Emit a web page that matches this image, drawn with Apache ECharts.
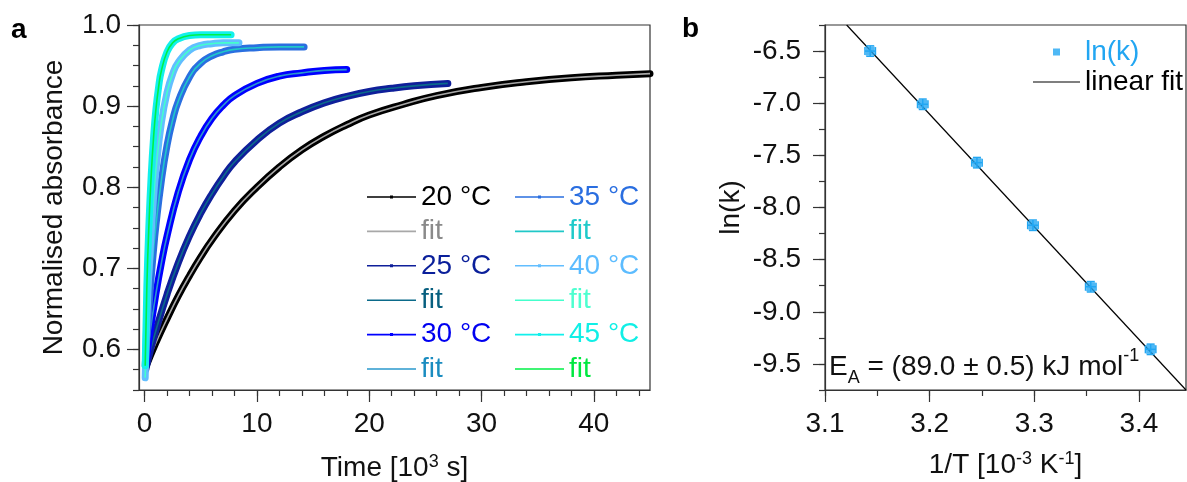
<!DOCTYPE html>
<html><head><meta charset="utf-8">
<script src="https://cdn.jsdelivr.net/npm/echarts@6/dist/echarts.min.js"></script>
<style>html,body{margin:0;padding:0;background:#fff}#c{width:1187px;height:482px}</style>
</head><body><div id="c"></div>
<script>
const FONT = 'Liberation Sans, Arial, Helvetica, sans-serif';
const FS = 28;

// ---------- panel a: kinetics (time in 10^3 s, normalised absorbance) ----------
const t20 = [0.1, 1, 2, 3, 4, 5, 6, 8, 10, 12, 14, 16, 18, 20, 23, 26, 30, 34, 38, 42, 45];
const a20 = [0.578, 0.608, 0.638, 0.666, 0.691, 0.714, 0.735, 0.771, 0.800, 0.825, 0.846, 0.863, 0.877, 0.889, 0.902, 0.913, 0.923, 0.930, 0.935, 0.938, 0.940];
const t25 = [0.1, 0.5, 1, 2, 3, 4, 5, 6, 7, 8, 10, 12, 14, 16, 18, 20, 22, 24, 27];
const a25 = [0.575, 0.598, 0.623, 0.668, 0.707, 0.740, 0.768, 0.792, 0.813, 0.831, 0.858, 0.879, 0.893, 0.904, 0.912, 0.918, 0.922, 0.925, 0.928];
const t30 = [0.1, 0.5, 1, 1.5, 2, 3, 4, 5, 6, 7, 8, 10, 12, 14, 16, 18];
const a30 = [0.580, 0.623, 0.668, 0.707, 0.740, 0.794, 0.834, 0.863, 0.885, 0.901, 0.913, 0.928, 0.937, 0.941, 0.944, 0.945];
const t35 = [0.05, 0.25, 0.5, 0.75, 1, 1.5, 2, 2.5, 3, 4, 5, 6, 7, 8, 10, 12, 14.2];
const a35 = [0.580, 0.626, 0.674, 0.716, 0.752, 0.809, 0.852, 0.883, 0.906, 0.936, 0.953, 0.962, 0.967, 0.970, 0.972, 0.973, 0.973];
const t40 = [0.05, 0.25, 0.5, 0.75, 1, 1.5, 2, 2.5, 3, 4, 5, 6, 7, 8.4];
const a40 = [0.565, 0.656, 0.724, 0.778, 0.820, 0.880, 0.917, 0.940, 0.954, 0.969, 0.975, 0.977, 0.978, 0.978];
const t45 = [0.05, 0.2, 0.4, 0.6, 0.8, 1, 1.25, 1.5, 2, 2.5, 3, 4, 5, 6, 7.7];
const a45 = [0.580, 0.678, 0.759, 0.818, 0.862, 0.895, 0.924, 0.944, 0.967, 0.978, 0.983, 0.987, 0.988, 0.988, 0.988];

const tempLabels = ['20 °C', '25 °C', '30 °C', '35 °C', '40 °C', '45 °C'];
// axis ranges / tick steps (tick labels: 0..40 step 10; 0.6..1.0 step 0.1)
const timeRange = [-0.5, 45], timeMajor = [0, 40, 10], timeMinor = [0, 44, 2];
const absRange = [0.55, 1.0], absMajor = [0.6, 1.0, 0.1], absMinorStep = 0.025;

// ---------- panel b: Arrhenius plot ----------
const invT = [3.1432, 3.1934, 3.2452, 3.2987, 3.3540, 3.4112];
const lnk = [-6.50, -7.01, -7.57, -8.17, -8.76, -9.36];
const invTErr = [0.005, 0.005, 0.005, 0.005, 0.005, 0.005];
const lnkErr = [0.05, 0.05, 0.05, 0.05, 0.05, 0.05];
const fitInvT = [3.1207, 3.445];
const fitLnk = [-6.25, -9.75];
// tick labels: 3.1..3.4 step 0.1; -9.5..-6.5 step 0.5
const invTRange = [3.1, 3.445], invTMajor = [3.1, 3.4, 0.1], invTMinorStep = 0.05;
const lnkRange = [-9.75, -6.25], lnkMajor = [-9.5, -6.5, 0.5], lnkMinorStep = 0.25;

// ---------- styles ----------
const dataColors = ['#000000', '#0f1f9a', '#0000ff', '#2a6fe0', '#62beff', '#12f0ec'];
const fitColors = ['#a8a8a8', '#0b6a8a', '#2a98cc', '#20c8c8', '#44ffcc', '#00f046'];
const tempTextColors = ['#000000', '#0a1f9a', '#0000f0', '#2a6ee0', '#5cbcff', '#10efe6'];
const fitTextColors = ['#8a8a8a', '#075f7f', '#1a8cc0', '#1fcaca', '#4dffd0', '#00e840'];
const LNK = '#22a6f2';
const AXIS = '#333333';
const TXT = '#111111';

// plot boxes (pixels)
const boxA = { left: 139, top: 25, width: 511, height: 365 };
const boxB = { left: 825, top: 25, width: 361, height: 365 };

const times = [t20, t25, t30, t35, t40, t45];
const absVals = [a20, a25, a30, a35, a40, a45];
const pairs = (xs, ys) => xs.map((x, i) => [x, ys[i]]);

const ICON_DATA = 'path://M0,0L0,0M49,6L49,6M0,2.2L49,2.2L49,3.8L0,3.8ZM23,1.5L26,1.5L26,4.5L23,4.5Z';
const ICON_FIT = 'path://M0,0L0,0M49,6L49,6M0,2.2L49,2.2L49,3.8L0,3.8Z';

const series = [];
tempLabels.forEach((lab, i) => {
  series.push({
    name: lab, type: 'line', xAxisIndex: 0, yAxisIndex: 0,
    data: pairs(times[i], absVals[i]), color: dataColors[i],
    symbol: 'circle', showSymbol: false, smooth: 0.5,
    lineStyle: { width: 7, color: dataColors[i], cap: 'round', join: 'round' },
    itemStyle: { color: dataColors[i] }, z: 2 + i * 2
  });
  series.push({
    name: 'fit ' + lab, type: 'line', xAxisIndex: 0, yAxisIndex: 0,
    data: pairs(times[i], absVals[i]), color: fitColors[i],
    symbol: 'none', smooth: 0.5,
    lineStyle: { width: 1.6, color: fitColors[i] },
    itemStyle: { color: fitColors[i] }, z: 3 + i * 2
  });
});

series.push({
  name: 'linear fit', type: 'line', xAxisIndex: 1, yAxisIndex: 1,
  data: pairs(fitInvT, fitLnk), symbol: 'none', color: '#000',
  lineStyle: { width: 1.2, color: '#000' }, itemStyle: { color: '#000' }, z: 3
});
series.push({
  name: 'ln(k) error', type: 'custom', xAxisIndex: 1, yAxisIndex: 1,
  data: invT.map((x, i) => [x, lnk[i], invTErr[i], lnkErr[i]]),
  encode: { x: 0, y: 1 }, z: 4,
  renderItem: function (params, api) {
    const x = api.value(0), y = api.value(1), ex = api.value(2), ey = api.value(3);
    const top = api.coord([x, y + ey]), bot = api.coord([x, y - ey]);
    const l = api.coord([x - ex, y]), r = api.coord([x + ex, y]);
    const c = 4;
    const st = { stroke: LNK, lineWidth: 1.5 };
    const ln = (x1, y1, x2, y2) => ({ type: 'line', shape: { x1, y1, x2, y2 }, style: st });
    return { type: 'group', children: [
      ln(top[0], top[1], bot[0], bot[1]),
      ln(top[0] - c, top[1], top[0] + c, top[1]),
      ln(bot[0] - c, bot[1], bot[0] + c, bot[1]),
      ln(l[0], l[1], r[0], r[1]),
      ln(l[0], l[1] - c, l[0], l[1] + c),
      ln(r[0], r[1] - c, r[0], r[1] + c)
    ] };
  }
});
series.push({
  name: 'ln(k)', type: 'scatter', xAxisIndex: 1, yAxisIndex: 1,
  data: pairs(invT, lnk), symbol: 'rect', symbolSize: 9, color: LNK,
  itemStyle: { color: LNK }, z: 5
});

// helper grids that carry the major / minor tick rulers, aligned to the data scales
function subBox(box, range, sub, dim) {
  if (dim === 'x') {
    const ppu = box.width / (range[1] - range[0]);
    return { left: box.left + (sub[0] - range[0]) * ppu, width: (sub[1] - sub[0]) * ppu, top: box.top, height: box.height, show: false, outerBoundsMode: 'none', containLabel: false };
  }
  const ppu = box.height / (range[1] - range[0]);
  return { left: box.left, width: box.width, top: box.top + (range[1] - sub[1]) * ppu, height: (sub[1] - sub[0]) * ppu, show: false, outerBoundsMode: 'none', containLabel: false };
}

const grids = [
  Object.assign({ show: true, borderColor: AXIS, borderWidth: 1.2, outerBoundsMode: 'none', containLabel: false }, boxA),
  Object.assign({ show: true, borderColor: AXIS, borderWidth: 1.2, outerBoundsMode: 'none', containLabel: false }, boxB),
  subBox(boxA, timeRange, timeMajor, 'x'),
  subBox(boxA, timeRange, timeMinor, 'x'),
  subBox(boxA, absRange, absMajor, 'y'),
  subBox(boxB, invTRange, invTMajor, 'x'),
  subBox(boxB, lnkRange, lnkMajor, 'y')
];

const tickLine = { color: AXIS, width: 1.2 };
const labelFont = { fontSize: FS, fontFamily: FONT, color: TXT };
const isMultiple = (v, step) => Math.abs(v / step - Math.round(v / step)) < 1e-6;
const hidden = g => ({ type: 'value', gridIndex: g, show: false, min: 0, max: 1 });
function ruler(g, rng, len, labelMargin, fmt, pos) {
  return {
    type: 'value', gridIndex: g, min: rng[0], max: rng[1], interval: rng[2], position: pos,
    axisLine: { show: false, onZero: false },
    axisTick: { show: true, inside: false, length: len, lineStyle: tickLine },
    axisLabel: labelMargin == null ? { show: false } : Object.assign({ show: true, margin: labelMargin, formatter: fmt }, labelFont),
    splitLine: { show: false }
  };
}

const nameRich = {
  n: { fontSize: FS, fontFamily: FONT, color: TXT, lineHeight: 30 },
  sup: { fontSize: 18, fontFamily: FONT, color: TXT, lineHeight: 16, verticalAlign: 'top' }
};

const xAxes = [
  { // 0: panel a data axis
    type: 'value', gridIndex: 0, min: timeRange[0], max: timeRange[1], position: 'bottom',
    axisLine: { show: true, onZero: false, lineStyle: tickLine }, axisTick: { show: false }, axisLabel: { show: false },
    splitLine: { show: false },
    name: '{n|Time [10}{sup|3}{n| s]}', nameLocation: 'middle', nameGap: 63,
    nameTextStyle: { rich: nameRich, fontSize: FS, fontFamily: FONT, color: TXT }
  },
  { // 1: panel b data axis (minor ticks + labels)
    type: 'value', gridIndex: 1, min: invTRange[0], max: invTRange[1], interval: invTMinorStep, position: 'bottom',
    axisLine: { show: true, onZero: false, lineStyle: tickLine },
    axisTick: { show: true, inside: false, length: 6, lineStyle: tickLine },
    axisLabel: Object.assign({ margin: 20, showMaxLabel: false,
      formatter: v => isMultiple(v, invTMajor[2]) && v <= invTMajor[1] + 1e-9 ? v.toFixed(1) : '' }, labelFont),
    splitLine: { show: false },
    name: '{n|1/T [10}{sup|-3}{n| K}{sup|-1}{n|]}', nameLocation: 'middle', nameGap: 60,
    nameTextStyle: { rich: nameRich, fontSize: FS, fontFamily: FONT, color: TXT }
  },
  ruler(2, timeMajor, 12, 20, v => String(Math.round(v)), 'bottom'),
  ruler(3, timeMinor, 6, null, null, 'bottom'),
  hidden(4),
  ruler(5, invTMajor, 12, null, null, 'bottom'),
  hidden(6)
];

const yAxes = [
  { // 0: panel a data axis (minor ticks + labels)
    type: 'value', gridIndex: 0, min: absRange[0], max: absRange[1], interval: absMinorStep, position: 'left',
    axisLine: { show: true, onZero: false, lineStyle: tickLine },
    axisTick: { show: true, inside: false, length: 6, lineStyle: tickLine },
    axisLabel: Object.assign({ margin: 18, formatter: v => isMultiple(v, absMajor[2]) ? v.toFixed(1) : '' }, labelFont),
    splitLine: { show: false },
    name: 'Normalised absorbance', nameLocation: 'middle', nameGap: 70,
    nameTextStyle: { fontSize: FS, fontFamily: FONT, color: TXT, lineHeight: 30 }
  },
  { // 1: panel b data axis (minor ticks + labels)
    type: 'value', gridIndex: 1, min: lnkRange[0], max: lnkRange[1], interval: lnkMinorStep, position: 'left',
    axisLine: { show: true, onZero: false, lineStyle: tickLine },
    axisTick: { show: true, inside: false, length: 6, lineStyle: tickLine },
    axisLabel: Object.assign({ margin: 24, formatter: v => isMultiple(v, lnkMajor[2]) ? v.toFixed(1) : '' }, labelFont),
    splitLine: { show: false },
    name: 'ln(k)', nameLocation: 'middle', nameGap: 79,
    nameTextStyle: { fontSize: FS, fontFamily: FONT, color: TXT, lineHeight: 30 }
  },
  hidden(2),
  hidden(3),
  ruler(4, absMajor, 12, null, null, 'left'),
  hidden(5),
  ruler(6, lnkMajor, 12, null, null, 'left')
];

function legendA(left, idx) {
  return {
    left, top: 177, orient: 'vertical', itemWidth: 49, itemHeight: 6, itemGap: 4.4,
    selectedMode: false, symbolKeepAspect: true, itemStyle: { borderWidth: 0 },
    textStyle: { fontSize: FS, fontFamily: FONT, lineHeight: 30 },
    formatter: n => n.indexOf('fit') === 0 ? 'fit' : n,
    data: idx.flatMap(i => [
      { name: tempLabels[i], icon: ICON_DATA, itemStyle: { color: dataColors[i], borderWidth: 0 }, textStyle: { color: tempTextColors[i] } },
      { name: 'fit ' + tempLabels[i], icon: ICON_FIT, itemStyle: { color: fitColors[i], borderWidth: 0 }, textStyle: { color: fitTextColors[i] } }
    ])
  };
}

const option = {
  animation: false,
  backgroundColor: '#ffffff',
  textStyle: { fontFamily: FONT },
  grid: grids,
  xAxis: xAxes,
  yAxis: yAxes,
  legend: [
    legendA(362, [0, 1, 2]),
    legendA(510, [3, 4, 5]),
    {
      left: 1028, top: 32, orient: 'vertical', itemWidth: 47, itemHeight: 7, itemGap: 0,
      selectedMode: false, symbolKeepAspect: true, itemStyle: { borderWidth: 0 },
      textStyle: { fontSize: FS, fontFamily: FONT, lineHeight: 30 },
      data: [
        { name: 'ln(k)', icon: 'path://M0,0L0,0M47,7L47,7M20,0L27,0L27,7L20,7Z', itemStyle: { color: LNK, borderWidth: 0 }, textStyle: { color: LNK } },
        { name: 'linear fit', icon: 'path://M0,0L0,0M47,7L47,7M0,2.9L47,2.9L47,4.1L0,4.1Z', itemStyle: { color: '#000', borderWidth: 0 }, textStyle: { color: '#000' } }
      ]
    }
  ],
  graphic: [
    { type: 'text', left: 11, top: 16, style: { text: 'a', fontSize: FS, fontWeight: 'bold', fontFamily: FONT, fill: '#000' } },
    { type: 'text', left: 682, top: 15, style: { text: 'b', fontSize: FS, fontWeight: 'bold', fontFamily: FONT, fill: '#000' } },
    {
      type: 'text', left: 829, top: 347, z: 10,
      style: {
        text: '{n|E}{sub|A}{n| = (89.0 ± 0.5) kJ mol}{sup|-1}', fill: TXT, fontFamily: FONT, fontSize: FS,
        rich: {
          n: { fontSize: FS, fontFamily: FONT, lineHeight: 40, fill: TXT },
          sub: { fontSize: 18, fontFamily: FONT, lineHeight: 17, verticalAlign: 'bottom', fill: TXT },
          sup: { fontSize: 18, fontFamily: FONT, lineHeight: 26, verticalAlign: 'top', fill: TXT }
        }
      }
    }
  ],
  series
};

const chart = echarts.init(document.getElementById('c'), null, { renderer: 'canvas' });
chart.setOption(option);
</script>
</body></html>
